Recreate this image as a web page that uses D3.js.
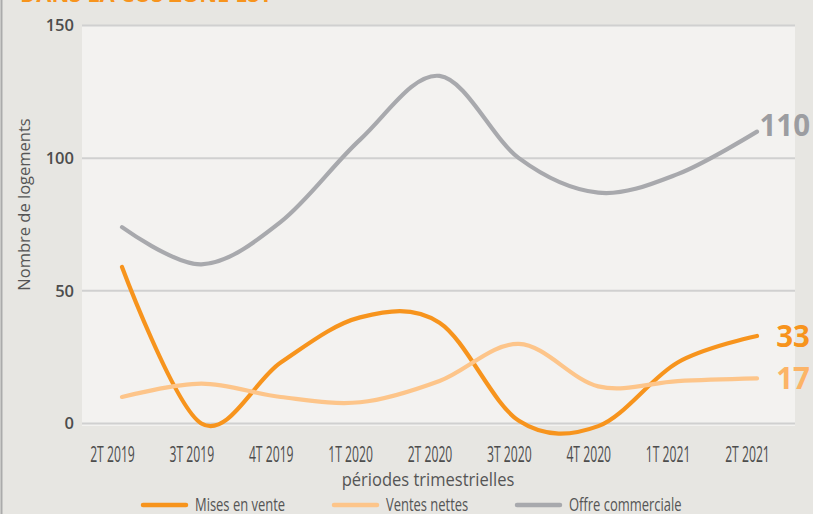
<!DOCTYPE html>
<html>
<head>
<meta charset="utf-8">
<script src="https://cdn.jsdelivr.net/npm/d3@7"></script>
<style>
  html, body { margin: 0; padding: 0; background: #e7e6e2; }
  svg { display: block; }
</style>
</head>
<body>
<svg id="chart" width="813" height="514"></svg>
<script>
// Quarterly housing figures
const categories = ["2T 2019", "3T 2019", "4T 2019", "1T 2020", "2T 2020", "3T 2020", "4T 2020", "1T 2021", "2T 2021"];
const misesEnVente = [59, 0, 23, 40, 38, 1, -1, 23, 33];
const ventesNettes = [10, 15, 10, 8, 16, 30, 14, 16, 17];
const offreCommerciale = [74, 60, 76, 107, 131, 100, 87, 94, 110];
const seriesNames = ["Mises en vente", "Ventes nettes", "Offre commerciale"];
const yTicks = [0, 50, 100, 150];
const yTitle = "Nombre de logements";
const xTitle = "périodes trimestrielles";
const headline = "DANS LA CUS ZONE EST";

const W = 813, H = 514;
const svg = d3.select("#chart");

const x = d3.scalePoint().domain(categories).range([122, 757]);
const y = d3.scaleLinear().domain([0, 150]).range([423.5, 25.5]);
const plotLeft = 82, plotRight = 795;

// page background and left rule
svg.append("rect").attr("width", W).attr("height", H).attr("fill", "#e7e6e2");
svg.append("line").attr("x1", 1.5).attr("x2", 1.5).attr("y1", 0).attr("y2", H)
  .attr("stroke", "#ababab").attr("stroke-width", 2);

// headline (runs off the top edge)
svg.append("text").attr("x", 20).attr("y", 1.5)
  .attr("font-family", "'Open Sans', sans-serif").attr("font-weight", 700)
  .attr("font-size", 22).attr("fill", "#f7941d").text(headline);

// plot panel
svg.append("rect")
  .attr("x", plotLeft).attr("y", y(150))
  .attr("width", plotRight - plotLeft).attr("height", y(0) - y(150) + 2.5)
  .attr("fill", "#f3f2f0");

// gridlines
svg.append("g").selectAll("line").data(yTicks).join("line")
  .attr("x1", plotLeft).attr("x2", plotRight)
  .attr("y1", d => y(d)).attr("y2", d => y(d))
  .attr("stroke", "#d0d0d0").attr("stroke-width", 2);

// y axis labels
const yAxis = svg.append("g").attr("transform", "translate(74,0)")
  .call(d3.axisLeft(y).tickValues(yTicks).tickSize(0).tickPadding(0));
yAxis.select(".domain").remove();
yAxis.selectAll("text")
  .attr("font-family", "'Open Sans', sans-serif").attr("font-weight", 600)
  .attr("font-size", 16.5).attr("fill", "#4d4d4d");

// x axis labels (condensed)
const xAxis = svg.append("g").attr("transform", `translate(0,${y(0)})`)
  .call(d3.axisBottom(x).tickSize(0).tickPadding(0));
xAxis.select(".domain").remove();
xAxis.selectAll(".tick text")
  .attr("x", 0).attr("y", 0).attr("dy", null)
  .attr("transform", "translate(-10,38) scale(0.58,1)")
  .attr("font-family", "'Open Sans', sans-serif").attr("font-size", 21)
  .attr("fill", "#4d4d4d");

// axis titles
svg.append("text")
  .attr("transform", `translate(30,${(y(0) + y(150)) / 2 - 20}) rotate(-90)`)
  .attr("text-anchor", "middle")
  .attr("font-family", "'Open Sans', sans-serif").attr("font-size", 16.5)
  .attr("fill", "#555").text(yTitle);

svg.append("text")
  .attr("transform", "translate(428,486) scale(0.87,1)")
  .attr("text-anchor", "middle")
  .attr("font-family", "'Open Sans', sans-serif").attr("font-size", 19)
  .attr("fill", "#555").text(xTitle);

// series
const series = [
  { name: seriesNames[0], values: misesEnVente, color: "#f7941d", labelColor: "#f7941d", nudge: 0 },
  { name: seriesNames[1], values: ventesNettes, color: "#fdc58a", labelColor: "#fcb467", nudge: 0 },
  { name: seriesNames[2], values: offreCommerciale, color: "#a8a9ad", labelColor: "#9c9da1", nudge: -6 }
];

const line = d3.line()
  .x((d, i) => x(categories[i]))
  .y(d => y(d))
  .curve(d3.curveCardinal.tension(0));

svg.append("g").selectAll("path").data(series).join("path")
  .attr("d", s => line(s.values))
  .attr("fill", "none")
  .attr("stroke", s => s.color)
  .attr("stroke-width", 4.2)
  .attr("stroke-linecap", "round")
  .attr("stroke-linejoin", "round");

// last-value labels
svg.append("g").selectAll("text").data(series).join("text")
  .attr("x", x(categories[categories.length - 1]) + 53)
  .attr("y", s => y(s.values[s.values.length - 1]) + s.nudge)
  .attr("dy", "0.36em")
  .attr("text-anchor", "end")
  .attr("font-family", "'Open Sans', sans-serif").attr("font-weight", 700)
  .attr("font-size", 29.5)
  .attr("fill", s => s.labelColor)
  .text(s => s.values[s.values.length - 1]);

// legend
const legendX = [143, 334, 517];
const legend = svg.append("g").selectAll("g").data(series).join("g")
  .attr("transform", (s, i) => `translate(${legendX[i]},505)`);
legend.append("line")
  .attr("x1", 0).attr("x2", 43).attr("y1", 0).attr("y2", 0)
  .attr("stroke", s => s.color).attr("stroke-width", 4.5)
  .attr("stroke-linecap", "round");
legend.append("text")
  .attr("transform", "translate(52,6) scale(0.72,1)")
  .attr("font-family", "'Open Sans', sans-serif").attr("font-size", 18)
  .attr("fill", "#555")
  .text(s => s.name);
</script>
</body>
</html>
